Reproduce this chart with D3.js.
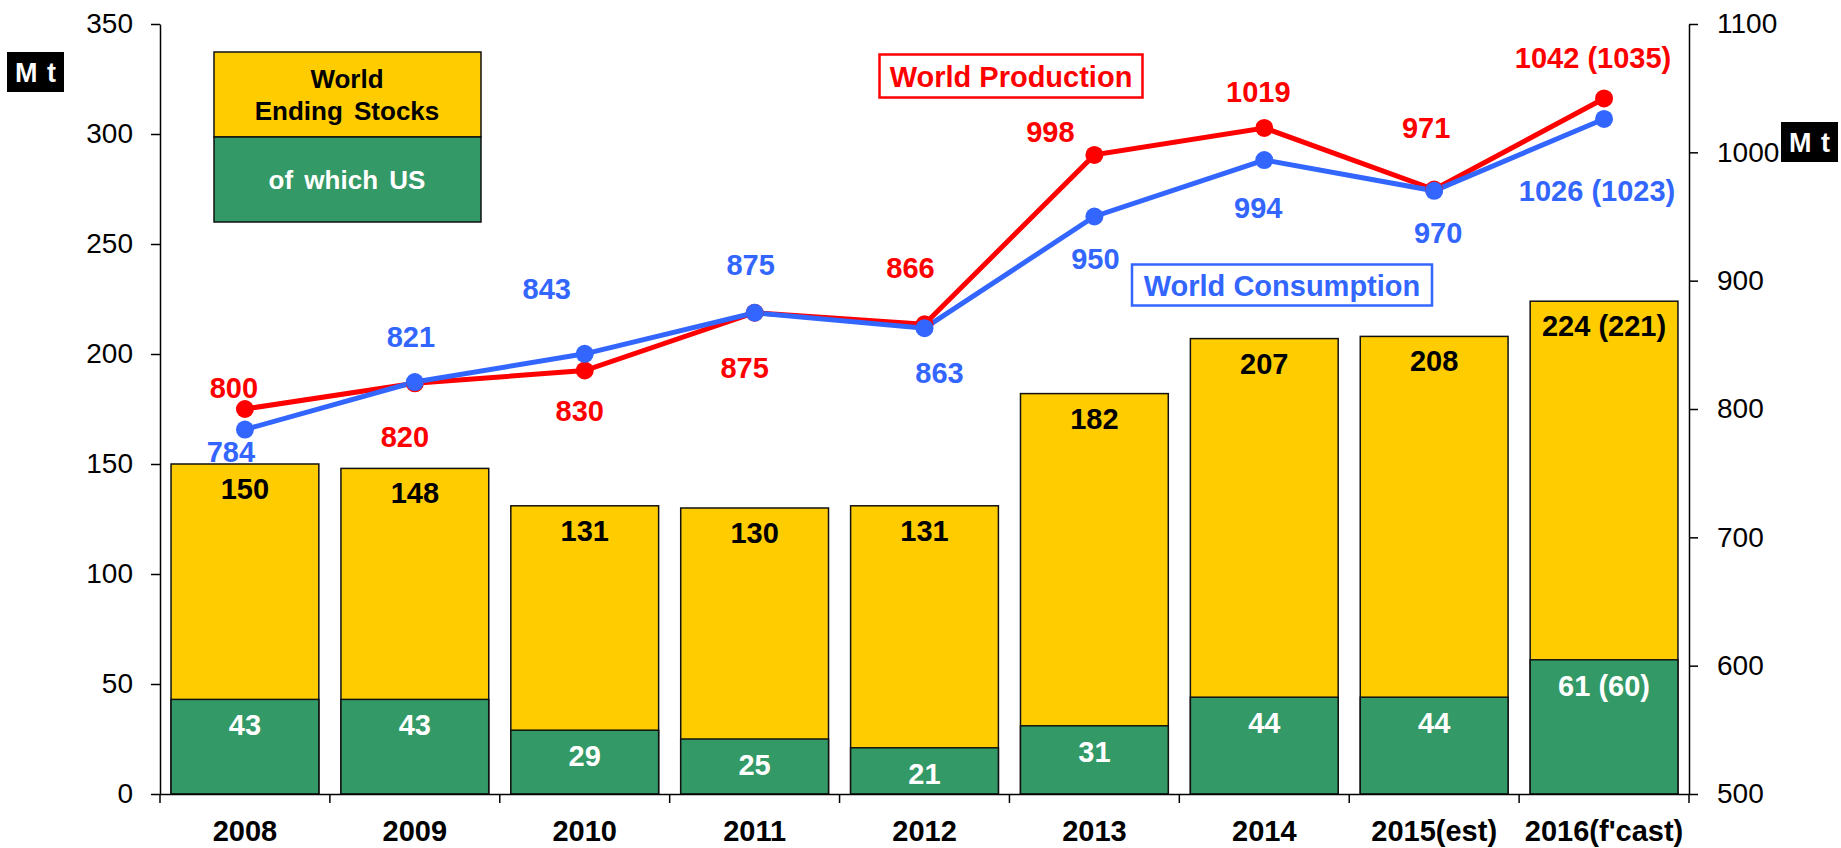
<!DOCTYPE html>
<html>
<head>
<meta charset="utf-8">
<script src="https://cdn.jsdelivr.net/npm/d3@7"></script>
<style>
  body { margin: 0; background: #fff; }
  text { font-family: "Liberation Sans", Arial, sans-serif; }
</style>
</head>
<body>
<script>
// chart data
const years = ["2008", "2009", "2010", "2011", "2012", "2013", "2014", "2015(est)", "2016(f'cast)"];
const worldStocks = [150, 148, 131, 130, 131, 182, 207, 208, 224];
const usStocks = [43, 43, 29, 25, 21, 31, 44, 44, 61];
const worldStockLabels = ["150", "148", "131", "130", "131", "182", "207", "208", "224 (221)"];
const usStockLabels = ["43", "43", "29", "25", "21", "31", "44", "44", "61 (60)"];
const production = [800, 820, 830, 875, 866, 998, 1019, 971, 1042];
const consumption = [784, 821, 843, 875, 863, 950, 994, 970, 1026];
const productionLabels = ["800", "820", "830", "875", "866", "998", "1019", "971", "1042 (1035)"];
const consumptionLabels = ["784", "821", "843", "875", "863", "950", "994", "970", "1026 (1023)"];
const leftTicks = [0, 50, 100, 150, 200, 250, 300, 350];
const rightTicks = [500, 600, 700, 800, 900, 1000, 1100];

// where the line labels sit, relative to their point (dx, dy)
const prodLabelOffsets = [[-11, -21], [-10, 54], [-5, 40], [-10, 55], [-14, -56], [-44, -23], [-6, -36], [-8, -62], [-11, -40]];
const consLabelOffsets = [[-14, 22], [-4, -45], [-38, -65], [-4, -48], [15, 45], [1, 42], [-6, 48], [4, 42], [-7, 72]];

const width = 1841, height = 848;
const margin = {top: 24, right: 152, bottom: 54, left: 160};
const YELLOW = "#FFCC00", GREEN = "#339966", RED = "#FF0000", BLUE = "#3366FF";

const svg = d3.select("body").append("svg")
    .attr("width", width)
    .attr("height", height);

const x = d3.scaleBand()
    .domain(years)
    .range([margin.left, width - margin.right])
    .paddingInner(0.13)
    .paddingOuter(0.065);

const y = d3.scaleLinear().domain([0, 350]).range([height - margin.bottom, margin.top]);
const y2 = d3.scaleLinear().domain([500, 1100]).range([height - margin.bottom, margin.top]);

const cx = function(i) { return x(years[i]) + x.bandwidth() / 2; };

// bars: world stocks, then US on top
svg.selectAll(".world")
    .data(worldStocks)
    .enter().append("rect")
    .attr("class", "world")
    .attr("x", (d, i) => x(years[i]))
    .attr("y", d => y(d))
    .attr("width", x.bandwidth())
    .attr("height", d => y(0) - y(d))
    .style("fill", YELLOW)
    .style("stroke", "#111")
    .style("stroke-width", 1.5);

svg.selectAll(".us")
    .data(usStocks)
    .enter().append("rect")
    .attr("class", "us")
    .attr("x", (d, i) => x(years[i]))
    .attr("y", d => y(d))
    .attr("width", x.bandwidth())
    .attr("height", d => y(0) - y(d))
    .style("fill", GREEN)
    .style("stroke", "#111")
    .style("stroke-width", 1.5);

svg.selectAll(".worldLabel")
    .data(worldStocks)
    .enter().append("text")
    .attr("x", (d, i) => cx(i))
    .attr("y", d => y(d) + 25)
    .attr("dominant-baseline", "central")
    .attr("text-anchor", "middle")
    .style("font-size", "29px")
    .style("font-weight", "bold")
    .style("fill", "#000")
    .text((d, i) => worldStockLabels[i]);

svg.selectAll(".usLabel")
    .data(usStocks)
    .enter().append("text")
    .attr("x", (d, i) => cx(i))
    .attr("y", d => y(d) + 26)
    .attr("dominant-baseline", "central")
    .attr("text-anchor", "middle")
    .style("font-size", "29px")
    .style("font-weight", "bold")
    .style("fill", "#fff")
    .text((d, i) => usStockLabels[i]);

// axes
const leftAxis = svg.append("g")
    .attr("transform", "translate(" + margin.left + ",0)")
    .call(d3.axisLeft(y).tickValues(leftTicks).tickSize(9).tickSizeOuter(0).tickPadding(18));

const rightAxis = svg.append("g")
    .attr("transform", "translate(" + (width - margin.right) + ",0)")
    .call(d3.axisRight(y2).tickValues(rightTicks).tickFormat(d3.format("d"))
      .tickSize(9).tickSizeOuter(0).tickPadding(19));

const bottomAxis = svg.append("g")
    .attr("transform", "translate(0," + (height - margin.bottom) + ")")
    .call(d3.axisBottom(x).tickSize(0).tickSizeOuter(0).tickPadding(26));

bottomAxis.selectAll("text")
    .style("font-size", "29px")
    .style("font-weight", "bold");

// ticks on category boundaries
const boundaries = d3.range(years.length + 1).map(i => margin.left + i * x.step());
bottomAxis.selectAll(".boundary")
    .data(boundaries)
    .enter().append("line")
    .attr("x1", d => d).attr("x2", d => d)
    .attr("y1", 0).attr("y2", 9)
    .style("stroke", "#000")
    .style("stroke-width", 1.5);

[leftAxis, rightAxis, bottomAxis].forEach(function(g) {
  g.select(".domain").style("stroke", "#000").style("stroke-width", 1.5);
  g.selectAll(".tick line").style("stroke", "#000").style("stroke-width", 1.5);
});
leftAxis.selectAll("text").style("font-size", "28px").style("fill", "#000");
rightAxis.selectAll("text").style("font-size", "28px").style("fill", "#000");
bottomAxis.selectAll("text").style("fill", "#000");

// lines
const line = d3.line()
    .x((d, i) => cx(i))
    .y(d => y2(d));

svg.append("path")
    .datum(production)
    .attr("d", line)
    .style("fill", "none")
    .style("stroke", RED)
    .style("stroke-width", 5);

svg.append("path")
    .datum(consumption)
    .attr("d", line)
    .style("fill", "none")
    .style("stroke", BLUE)
    .style("stroke-width", 5);

svg.selectAll(".prodDot")
    .data(production)
    .enter().append("circle")
    .attr("cx", (d, i) => cx(i))
    .attr("cy", d => y2(d))
    .attr("r", 9)
    .style("fill", RED);

svg.selectAll(".consDot")
    .data(consumption)
    .enter().append("circle")
    .attr("cx", (d, i) => cx(i))
    .attr("cy", d => y2(d))
    .attr("r", 9)
    .style("fill", BLUE);

svg.selectAll(".prodLabel")
    .data(production)
    .enter().append("text")
    .attr("x", (d, i) => cx(i) + prodLabelOffsets[i][0])
    .attr("y", (d, i) => y2(d) + prodLabelOffsets[i][1])
    .attr("dominant-baseline", "central")
    .attr("text-anchor", "middle")
    .style("font-size", "29px")
    .style("font-weight", "bold")
    .style("fill", RED)
    .text((d, i) => productionLabels[i]);

svg.selectAll(".consLabel")
    .data(consumption)
    .enter().append("text")
    .attr("x", (d, i) => cx(i) + consLabelOffsets[i][0])
    .attr("y", (d, i) => y2(d) + consLabelOffsets[i][1])
    .attr("dominant-baseline", "central")
    .attr("text-anchor", "middle")
    .style("font-size", "29px")
    .style("font-weight", "bold")
    .style("fill", BLUE)
    .text((d, i) => consumptionLabels[i]);

// series name boxes
function nameBox(cxp, cyp, w, h, color, label) {
  svg.append("rect")
      .attr("x", cxp - w / 2).attr("y", cyp - h / 2)
      .attr("width", w).attr("height", h)
      .style("fill", "#fff")
      .style("stroke", color)
      .style("stroke-width", 2.5);
  svg.append("text")
      .attr("x", cxp).attr("y", cyp + 1)
      .attr("dominant-baseline", "central")
      .attr("text-anchor", "middle")
      .style("font-size", "29px")
      .style("font-weight", "bold")
      .style("fill", color)
      .text(label);
}
nameBox(1011, 76, 263, 43, RED, "World Production");
nameBox(1282, 285, 300, 41, BLUE, "World Consumption");

// legend box
const legend = svg.append("g");
legend.append("rect")
    .attr("x", 214).attr("y", 52).attr("width", 267).attr("height", 85)
    .style("fill", YELLOW).style("stroke", "#111").style("stroke-width", 1.5);
legend.append("rect")
    .attr("x", 214).attr("y", 137).attr("width", 267).attr("height", 85)
    .style("fill", GREEN).style("stroke", "#111").style("stroke-width", 1.5);
legend.append("text")
    .attr("x", 347).attr("y", 79).attr("dominant-baseline", "central").attr("text-anchor", "middle")
    .style("font-size", "26px").style("font-weight", "bold").style("fill", "#000")
    .style("word-spacing", "4px")
    .text("World");
legend.append("text")
    .attr("x", 347).attr("y", 111).attr("dominant-baseline", "central").attr("text-anchor", "middle")
    .style("font-size", "26px").style("font-weight", "bold").style("fill", "#000")
    .style("word-spacing", "4px")
    .text("Ending Stocks");
legend.append("text")
    .attr("x", 347).attr("y", 180).attr("dominant-baseline", "central").attr("text-anchor", "middle")
    .style("font-size", "26px").style("font-weight", "bold").style("fill", "#fff")
    .style("word-spacing", "4px")
    .text("of which US");

// unit boxes
function unitBox(x0, y0) {
  svg.append("rect")
      .attr("x", x0).attr("y", y0).attr("width", 57).attr("height", 40)
      .style("fill", "#000");
  svg.append("text")
      .attr("x", x0 + 28.5).attr("y", y0 + 21)
      .attr("dominant-baseline", "central").attr("text-anchor", "middle")
      .style("font-size", "27px").style("font-weight", "bold").style("fill", "#fff")
      .style("word-spacing", "2px")
      .text("M t");
}
unitBox(7, 52);
unitBox(1781, 122);
</script>
</body>
</html>
